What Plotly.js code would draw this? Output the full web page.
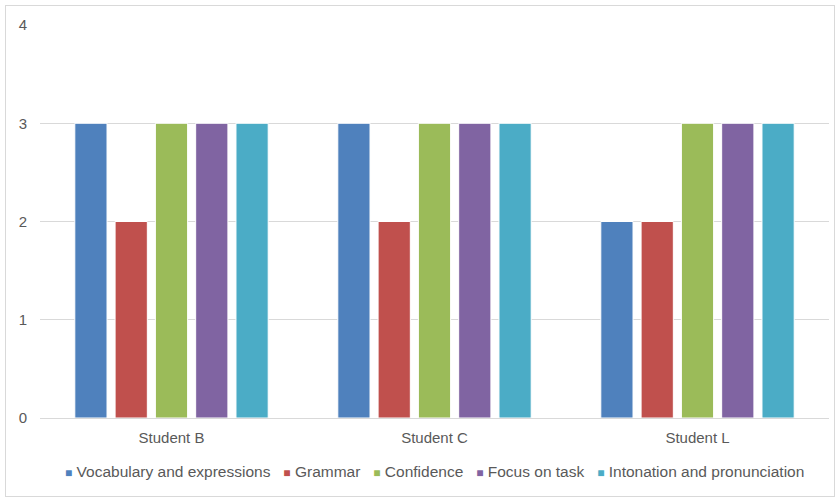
<!DOCTYPE html>
<html><head><meta charset="utf-8">
<script src="https://cdn.plot.ly/plotly-3.0.1.min.js"></script>
<style>html,body{margin:0;padding:0;background:#fff}#frame{position:absolute;left:5px;top:5px;width:828px;height:490px;border:1px solid #d9d9d9;pointer-events:none}</style>
</head><body>
<div id="chart" style="width:840px;height:499px"></div>
<div id="frame"></div>
<script>
const categories = ["Student B", "Student C", "Student L"];
const seriesNames = ["Vocabulary and expressions", "Grammar", "Confidence", "Focus on task", "Intonation and pronunciation"];
const vocabulary = [3, 3, 2];
const grammar = [2, 2, 2];
const confidence = [3, 3, 3];
const focus = [3, 3, 3];
const intonation = [3, 3, 3];
const colors = ["#4F81BD", "#C0504D", "#9BBB59", "#8064A2", "#4BACC6"];
const values = [vocabulary, grammar, confidence, focus, intonation];

const traces = values.map((v, i) => ({
  type: "bar", x: categories, y: v, name: seriesNames[i],
  marker: {color: colors[i], line: {color: "#ffffff", width: 1}}
}));

const legendText = seriesNames.map((n, i) =>
  `<span style="color:${colors[i]};font-size:12px">■</span> ${n}`
).join("\u00a0\u00a0\u00a0");

const layout = {
  width: 840, height: 499,
  margin: {l: 40, r: 11, t: 25, b: 81},
  barmode: "group", bargap: 0.234, bargroupgap: 0.2,
  paper_bgcolor: "#fff", plot_bgcolor: "#fff",
  font: {family: "Liberation Sans, Arial, sans-serif", size: 15, color: "#595959"},
  xaxis: {showgrid: false, showline: true, linecolor: "#d9d9d9", ticks: "", ticklabelstandoff: 6, tickfont: {size: 15, color: "#595959"}},
  yaxis: {range: [0, 4], dtick: 1, showgrid: true, gridcolor: "#d9d9d9", zeroline: false, showline: false, ticks: "", ticklabelstandoff: 12, tickfont: {size: 15, color: "#595959"}},
  showlegend: false,
  annotations: [{
    xref: "paper", yref: "paper", x: 0.5, xanchor: "center", y: -0.136, yanchor: "middle",
    showarrow: false, text: legendText, font: {size: 15.5, color: "#595959"}
  }]
};
Plotly.newPlot("chart", traces, layout, {displayModeBar: false, staticPlot: true});
</script>
</body></html>
